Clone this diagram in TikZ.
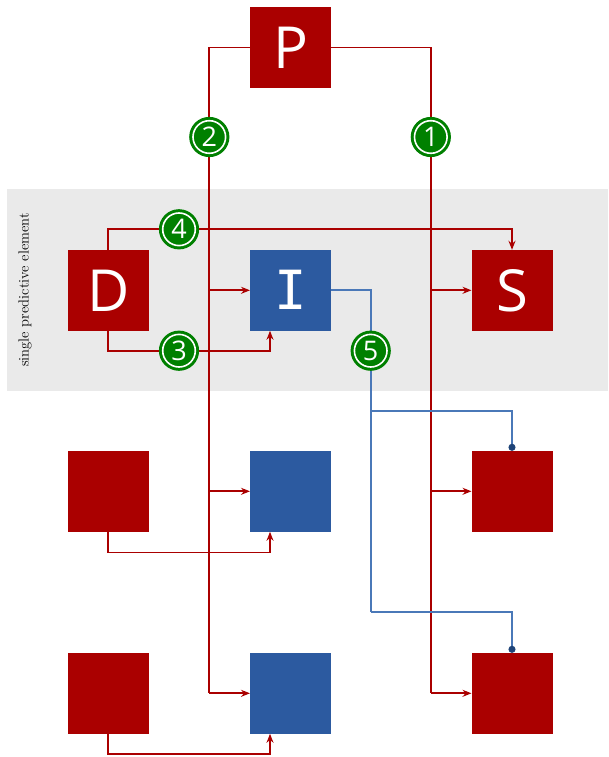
\documentclass[tikz,border=0pt]{standalone}
\usepackage{fontspec}
\setsansfont{Open Sans}
\newfontfamily\monoI{DejaVu Sans Mono}
\usetikzlibrary{arrows.meta}
\definecolor{boxred}{HTML}{AA0000}
\definecolor{boxblue}{HTML}{2C5AA0}
\definecolor{wireblue}{HTML}{4A78B8}
\definecolor{dotblue}{HTML}{1F4478}
\definecolor{badgegreen}{HTML}{008000}
\definecolor{bandgrey}{HTML}{EAEAEA}
\tikzset{
  unit/.style={minimum size=81pt, inner sep=0pt, outer sep=0pt, text=white,
    font=\sffamily\fontsize{58}{58}\selectfont},
  redbox/.style={unit, fill=boxred},
  bluebox/.style={unit, fill=boxblue},
  redwire/.style={draw=boxred, line width=1.7pt},
  bluewire/.style={draw=wireblue, line width=1.7pt},
  feed/.style={redwire, -{Stealth[length=9pt,width=7pt,inset=3pt]}},
  tap/.style={bluewire, -{Circle[length=7pt,width=7pt,fill=dotblue,color=dotblue]}},
  badge/.style={circle, fill=badgegreen, draw=badgegreen, line width=1.2pt,
    minimum size=39pt, inner sep=0pt, text=white,
    font=\sffamily\fontsize{27}{27}\selectfont,
    path picture={\draw[white, line width=1.6pt] (path picture bounding box.center) circle (16.3pt);}},
}
\begin{document}
\begin{tikzpicture}[x=1pt, y=-1pt]
  \useasboundingbox (0,0) rectangle (608,757);
  % shaded band behind the single predictive element
  \fill[bandgrey] (7,189) rectangle (608,390.7);
  \node[rotate=90, font=\fontsize{14.6}{14.6}\selectfont] (lbl) at (25,290) {single predictive element};

  % units
  \node[redbox]  (P)  at (290.5,47.5)  {P};
  \node[redbox]  (D)  at (108.3,290.3) {D};
  \node[bluebox] (I)  at (290.5,290.3) {\monoI\fontsize{54}{54}\selectfont I};
  \node[redbox]  (S)  at (512,290.3)   {S};
  \node[redbox]  (D2) at (108.3,491.3) {};
  \node[bluebox] (I2) at (290.5,491.3) {};
  \node[redbox]  (S2) at (512,491.3)   {};
  \node[redbox]  (D3) at (108.3,693.3) {};
  \node[bluebox] (I3) at (290.5,693.3) {};
  \node[redbox]  (S3) at (512,693.3)   {};

  % bus coordinates
  \coordinate (lbus) at (209.3,0);
  \coordinate (rbus) at (430.8,0);
  \coordinate (ibus) at (370.7,0);

  % P feeds the I column on the left bus
  \draw[redwire] (P.west) -| (lbus |- I3.west);
  \draw[feed] (lbus |- I.west) -- (I.west);
  \draw[feed] (lbus |- I2.west) -- (I2.west);
  \draw[feed] (lbus |- I3.west) -- (I3.west);

  % P feeds the S column on the right bus
  \draw[redwire] (P.east) -| (rbus |- S3.west);
  \draw[feed] (rbus |- S.west) -- (S.west);
  \draw[feed] (rbus |- S2.west) -- (S2.west);
  \draw[feed] (rbus |- S3.west) -- (S3.west);

  % D to S
  \coordinate (dtop) at (108.3,229.3);
  \draw[feed] (D.north) -- (dtop) -| (S.north);

  % D to I in each row
  \draw[feed] (D.south) -- ++(0,20.4) -| ([xshift=-20.5pt]I.south);
  \draw[feed] (D2.south) -- ++(0,20.6) -| ([xshift=-20.5pt]I2.south);
  \draw[feed] (D3.south) -- ++(0,20.4) -| ([xshift=-20.5pt]I3.south);

  % I drives the next rows
  \coordinate (br1) at (370.7,411);
  \coordinate (br2) at (370.7,612.3);
  \draw[bluewire] (I.east) -| (br2);
  \draw[tap] (br1) -| (S2.north);
  \draw[tap] (br2) -| (S3.north);

  % numbered badges
  \node[badge] (b1) at (430.8,137)   {1};
  \node[badge] (b2) at (209.3,137)   {2};
  \node[badge] (b3) at (179,350.7)   {3};
  \node[badge] (b4) at (179,229.3)   {4};
  \node[badge] (b5) at (370.7,350.7) {5};
\end{tikzpicture}
\end{document}
